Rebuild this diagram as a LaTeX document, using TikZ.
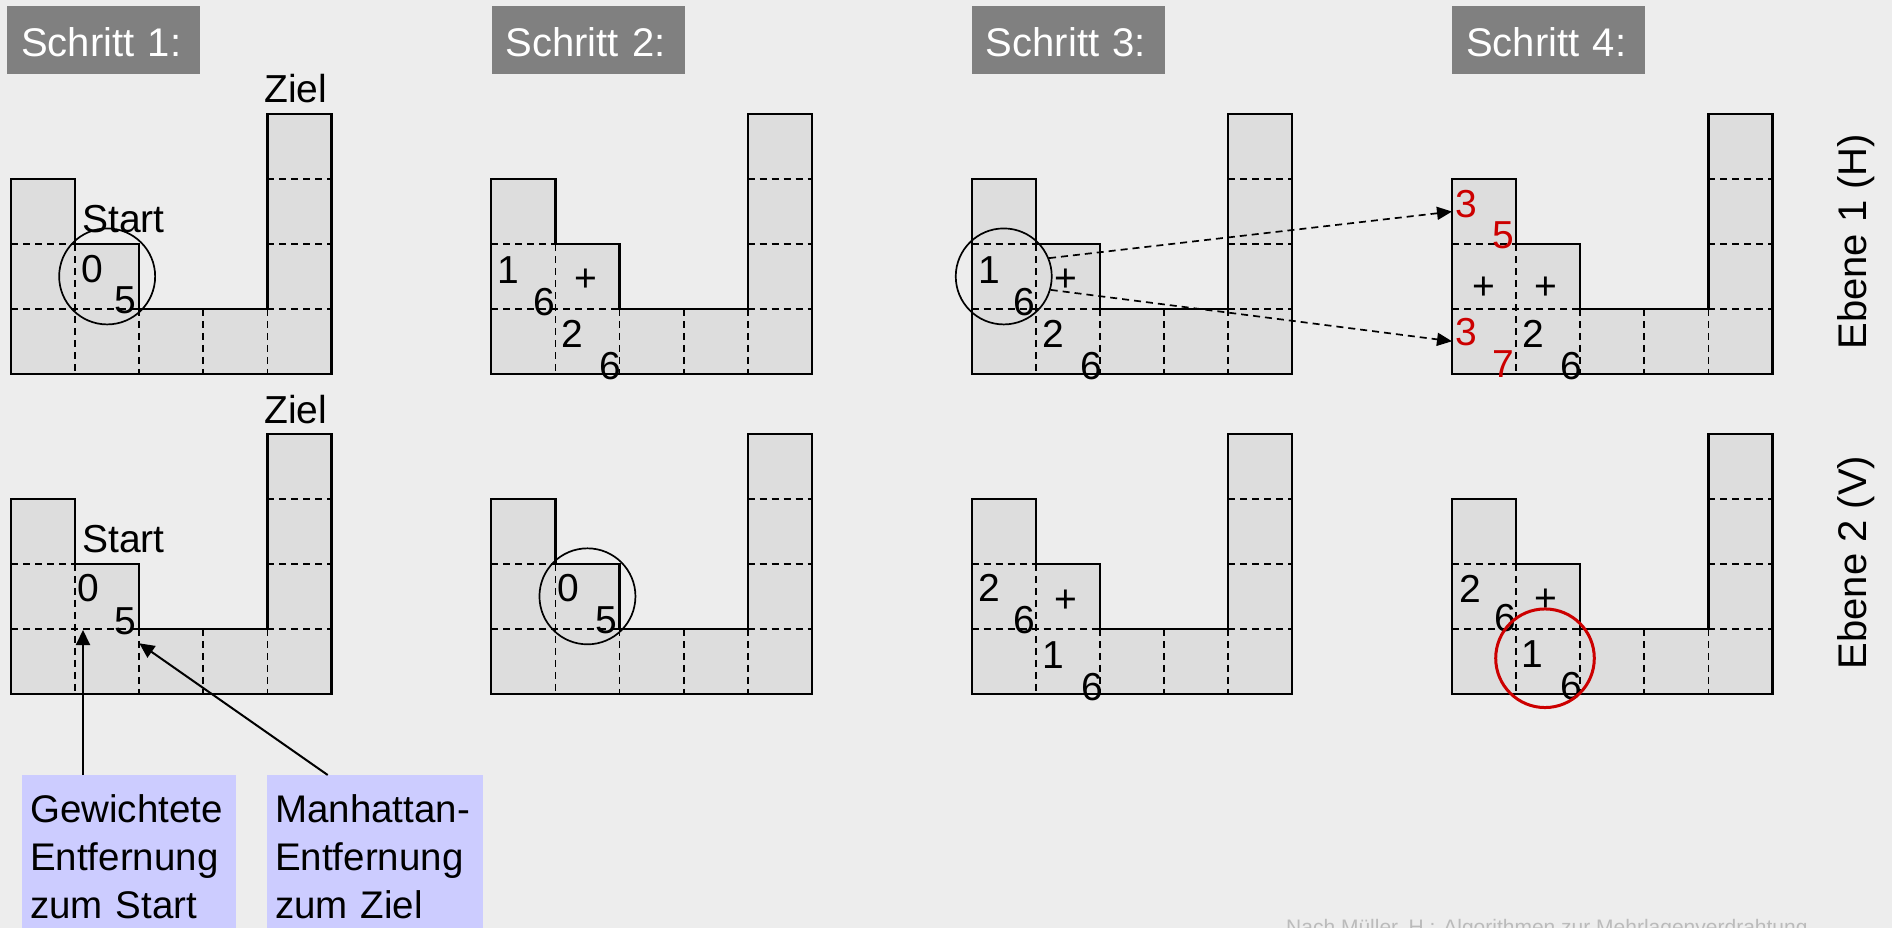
\documentclass[tikz,border=0pt]{standalone}
\usepackage{fontspec}
\setmainfont{Liberation Sans}
\usetikzlibrary{arrows.meta,calc}
\definecolor{bgc}{HTML}{EDEDED}
\definecolor{cellc}{HTML}{DDDDDD}
\definecolor{hdrc}{HTML}{808080}
\definecolor{boxc}{HTML}{CCCCFF}
\definecolor{redc}{HTML}{CC0000}
\definecolor{footc}{HTML}{BBBBBB}
\newcommand\cellw{64.1}
\newcommand\cellh{64.85}
\newcommand\drawgrid{%
  \fill[cellc] (0,\cellh) -- (\cellw,\cellh) -- (\cellw,2*\cellh) -- (2*\cellw,2*\cellh) -- (2*\cellw,3*\cellh) -- (4*\cellw,3*\cellh) -- (4*\cellw,0) -- (5*\cellw,0) -- (5*\cellw,4*\cellh) -- (0,4*\cellh) -- cycle;
  \draw[dline] (0,2*\cellh) -- (\cellw,2*\cellh);
  \draw[dline] (0,3*\cellh) -- (2*\cellw,3*\cellh);
  \draw[dline] (4*\cellw,\cellh) -- (5*\cellw,\cellh);
  \draw[dline] (4*\cellw,2*\cellh) -- (5*\cellw,2*\cellh);
  \draw[dline] (4*\cellw,3*\cellh) -- (5*\cellw,3*\cellh);
  \draw[dline] (\cellw,2*\cellh) -- (\cellw,4*\cellh);
  \draw[dline] (2*\cellw,3*\cellh) -- (2*\cellw,4*\cellh);
  \draw[dline] (3*\cellw,3*\cellh) -- (3*\cellw,4*\cellh);
  \draw[dline] (4*\cellw,3*\cellh) -- (4*\cellw,4*\cellh);
  \draw[oline] (0,\cellh) -- (\cellw,\cellh) -- (\cellw,2*\cellh) -- (2*\cellw,2*\cellh) -- (2*\cellw,3*\cellh) -- (4*\cellw,3*\cellh) -- (4*\cellw,0) -- (5*\cellw,0) -- (5*\cellw,4*\cellh) -- (0,4*\cellh) -- cycle;
}
\newcommand\numat[7][]{\node[num,#1] (#2) at ({#3*\cellw+#5},{#4*\cellh+#6}) {#7};}
\newcommand\plusat[5]{\node[plusn] (#1) at ({#2*\cellw+#4},{#3*\cellh+#5+13.8}) {+};}
\begin{document}
\begin{tikzpicture}[x=1pt,y=-1pt,
  dline/.style={line width=1.8pt,dash pattern=on 7pt off 5pt},
  oline/.style={line width=2.2pt,line join=miter},
  num/.style={font=\fontsize{39}{47}\selectfont,inner sep=0pt,anchor=base west},
  red/.style={text=redc},
  plusn/.style={font=\fontsize{39}{47}\selectfont,inner sep=0pt,anchor=base},
  lbl/.style={font=\fontsize{39}{47}\selectfont,inner sep=0pt,anchor=base west},
  circ/.style={circle,draw,line width=1.7pt,minimum size=96pt,inner sep=0pt},
  hdr/.style={anchor=north west,fill=hdrc,text=white,font=\fontsize{40}{48}\selectfont,
    minimum height=67.7pt,text width=165pt,inner xsep=14pt,inner ysep=0pt,
    text height=32.3pt,text depth=0pt,align=left},
  infobox/.style={anchor=north west,fill=boxc,inner xsep=8pt,inner ysep=19pt,align=left,
    font=\fontsize{38.5}{48}\selectfont},
  ebene/.style={font=\fontsize{40}{48}\selectfont,inner sep=0pt,rotate=90,anchor=base},
  foot/.style={font=\fontsize{21}{25}\selectfont,text=footc,inner sep=0pt,anchor=base west},
  sarr/.style={line width=2pt,-{Triangle[length=15pt,width=14pt]}},
  darr/.style={line width=1.7pt,dash pattern=on 7pt off 5pt,-{Triangle[length=15pt,width=13pt]}}]
\useasboundingbox (0,0) rectangle (1892,928);
\fill[bgc] (0,0) rectangle (1892,928);

% headers
\node[hdr] (h1) at (7,6) {Schritt 1:};
\node[hdr] (h2) at (491.3,6) {Schritt 2:};
\node[hdr] (h3) at (971.7,6) {Schritt 3:};
\node[hdr] (h4) at (1452,6) {Schritt 4:};

% ---- top row (Ebene 1)
\begin{scope}[shift={(11,114.3)}]
  \drawgrid
  \node[lbl] (t1ziel) at (253,-11.3) {Ziel};
  \node[lbl] (t1start) at (71,118) {Start};
  \numat{t1a}{1}{2}{6.5}{38.5}{0}
  \numat{t1b}{1}{2}{39.5}{69.5}{5}
  \node[circ] (t1circ) at ({1.5*\cellw},{2.5*\cellh}) {};
\end{scope}
\begin{scope}[shift={(491.3,114.3)}]
  \drawgrid
  \numat{t2a}{0}{2}{6.4}{39}{1}
  \numat{t2b}{0}{2}{41.5}{71.3}{6}
  \plusat{t2p}{1}{2}{30.5}{34}
  \numat{t2c}{1}{3}{6}{38.7}{2}
  \numat{t2d}{1}{3}{44}{70.3}{6}
\end{scope}
\begin{scope}[shift={(971.7,114.3)}]
  \drawgrid
  \numat{t3a}{0}{2}{6.4}{39}{1}
  \numat{t3b}{0}{2}{41.5}{71.3}{6}
  \plusat{t3p}{1}{2}{30.5}{34}
  \numat{t3c}{1}{3}{6}{38.7}{2}
  \numat{t3d}{1}{3}{44}{70.3}{6}
  \node[circ] (t3circ) at ({0.5*\cellw},{2.5*\cellh}) {};
\end{scope}
\begin{scope}[shift={(1452,114.3)}]
  \drawgrid
  \numat[red]{t4a}{0}{1}{3}{38}{3}
  \numat[red]{t4b}{0}{1}{40}{69.6}{5}
  \plusat{t4p}{0}{2}{32}{42}
  \plusat{t4q}{1}{2}{30}{42}
  \numat[red]{t4c}{0}{3}{3}{36.7}{3}
  \numat[red]{t4d}{0}{3}{40}{68.7}{7}
  \numat{t4e}{1}{3}{6}{38.7}{2}
  \numat{t4f}{1}{3}{44}{71}{6}
  \coordinate (t4in1) at (0,{1.5*\cellh});
  \coordinate (t4in2) at (0,{3.5*\cellh});
\end{scope}
\draw[darr] (t3circ.22) -- (t4in1);
\draw[darr] (t3circ.-16) -- (t4in2);

% ---- bottom row (Ebene 2)
\begin{scope}[shift={(11,434.2)}]
  \drawgrid
  \node[lbl] (b1ziel) at (253,-11) {Ziel};
  \node[lbl] (b1start) at (71,118.1) {Start};
  \numat{b1a}{1}{2}{2.5}{37.8}{0}
  \numat{b1b}{1}{2}{39.5}{71}{5}
  \coordinate (tipA) at (72,195.8);
  \coordinate (tipB) at (128.3,209.1);
\end{scope}
\begin{scope}[shift={(491.3,434.2)}]
  \drawgrid
  \numat{b2a}{1}{2}{2}{38}{0}
  \numat{b2b}{1}{2}{39.5}{69.6}{5}
  \node[circ] (b2circ) at ({1.5*\cellw},{2.5*\cellh}) {};
\end{scope}
\begin{scope}[shift={(971.7,434.2)}]
  \drawgrid
  \numat{b3a}{0}{2}{7}{38}{2}
  \numat{b3b}{0}{2}{41.5}{69.6}{6}
  \plusat{b3p}{1}{2}{30.2}{34.6}
  \numat{b3c}{1}{3}{6}{39.7}{1}
  \numat{b3d}{1}{3}{45}{71.4}{6}
\end{scope}
\begin{scope}[shift={(1452,434.2)}]
  \drawgrid
  \numat{b4a}{0}{2}{7}{38.7}{2}
  \numat{b4b}{0}{2}{42}{67.7}{6}
  \plusat{b4p}{1}{2}{30}{34}
  \numat{b4c}{1}{3}{5.4}{38.7}{1}
  \numat{b4d}{1}{3}{44}{71}{6}
  \node[circ,draw=redc,line width=3pt,minimum size=98.6pt] (b4circ) at ({\cellw+28.9},{3*\cellh+29.5}) {};
\end{scope}

% side labels
\node[ebene] (e1) at (1866.7,241.7) {Ebene 1 (H)};
\node[ebene] (e2) at (1866.7,562.6) {Ebene 2 (V)};

% info boxes
\node[infobox,text width=198pt] (gw) at (22,775) {Gewichtete\\Entfernung\\zum Start};
\node[infobox,text width=200pt] (mh) at (267,775) {Manhattan-\\Entfernung\\zum Ziel};
\draw[sarr] (gw.north -| tipA) -- (tipA);
\draw[sarr] ([xshift=60.7pt]mh.north west) -- (tipB);

% footer
\node[foot] (src) at (1286,934) {Nach Müller, H.: Algorithmen zur Mehrlagenverdrahtung};
\end{tikzpicture}
\end{document}
